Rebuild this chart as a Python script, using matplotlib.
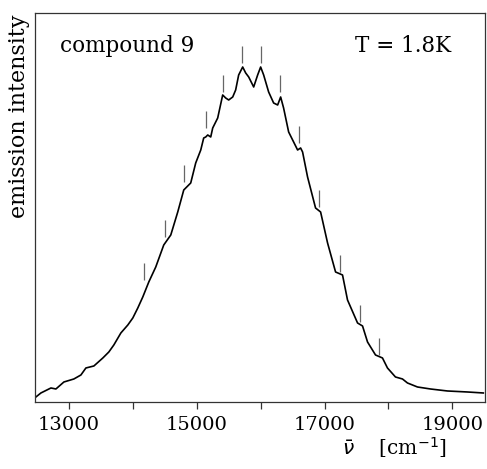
import numpy as np
import matplotlib
matplotlib.use("Agg")
import matplotlib.pyplot as plt

# emission spectrum (wavenumber in cm^-1, intensity in arb. units)
wavenumber = [12484, 12562, 12719, 12797, 12922, 13078, 13188, 13266, 13391, 13531,
              13625, 13703, 13813, 13922, 14000, 14078, 14156, 14250, 14359, 14484,
              14594, 14703, 14797, 14906, 14984, 15063, 15109, 15141, 15172, 15219,
              15250, 15328, 15406, 15453, 15500, 15563, 15609, 15656, 15719, 15766,
              15813, 15891, 15953, 16000, 16047, 16125, 16203, 16266, 16313, 16359,
              16438, 16516, 16578, 16625, 16656, 16734, 16859, 16938, 17047, 17172,
              17281, 17359, 17516, 17594, 17672, 17797, 17906, 17984, 18109, 18219,
              18297, 18453, 18656, 18922, 19234, 19484]
intensity = [5, 9, 14, 13, 20, 23, 27, 34, 36, 44,
             50, 57, 69, 77, 84, 94, 105, 120, 135, 157,
             167, 190, 212, 219, 239, 252, 264, 265, 267, 265,
             274, 284, 307, 304, 302, 305, 312, 327, 335, 329,
             325, 315, 327, 335, 327, 310, 299, 297, 305, 294,
             270, 260, 252, 254, 250, 225, 194, 190, 159, 130,
             127, 102, 79, 76, 60, 47, 44, 34, 25, 23,
             19, 15, 13, 11, 10, 9]

# vibronic progression markers: position and lower end of the marker line
marker_pos = [14172, 14500, 14797, 15141, 15406, 15703, 16000, 16297, 16594,
              16906, 17234, 17547, 17859]
marker_base = [122, 165, 220, 274, 310, 339, 339, 310, 259, 195, 130, 80, 47]

major_ticks = [13000, 15000, 17000, 19000]
minor_ticks = [14000, 16000, 18000]

plt.rcParams['font.family'] = ['DejaVu Serif']

fig = plt.figure(figsize=(4.87, 4.69), dpi=100)
ax = fig.add_axes([0.0719, 0.1429, 0.9240, 0.8294])

ax.plot(wavenumber, intensity, color="black", linewidth=1.2)
ax.vlines(marker_pos, np.array(marker_base), np.array(marker_base) + 17,
          color="#666666", linewidth=0.9)

ax.set_xlim(12470, 19510)
ax.set_ylim(0, 389)
ax.set_yticks([])
ax.set_xticks(major_ticks)
ax.set_xticks(minor_ticks, minor=True)
ax.set_xticklabels([str(t) for t in major_ticks])
ax.tick_params(axis='x', which='both', direction='out', length=5, width=0.9,
               labelsize=14, pad=5, color="#333333")
for s in ax.spines.values():
    s.set_linewidth(0.9)
    s.set_color("#333333")

ax.text(0.055, 0.915, "compound 9", transform=ax.transAxes, fontsize=15.5,
        ha="left", va="center")
ax.text(0.924, 0.915, "T = 1.8K", transform=ax.transAxes, fontsize=15.5,
        ha="right", va="center")

fig.text(0.039, 0.97, "emission intensity", rotation=90, fontsize=16,
         ha="center", va="top")
fig.text(0.918, 0.02, r"$\bar{\nu}$    [cm$^{-1}$]", fontsize=14.5,
         ha="right", va="bottom")

fig.savefig("out.png", dpi=100)
